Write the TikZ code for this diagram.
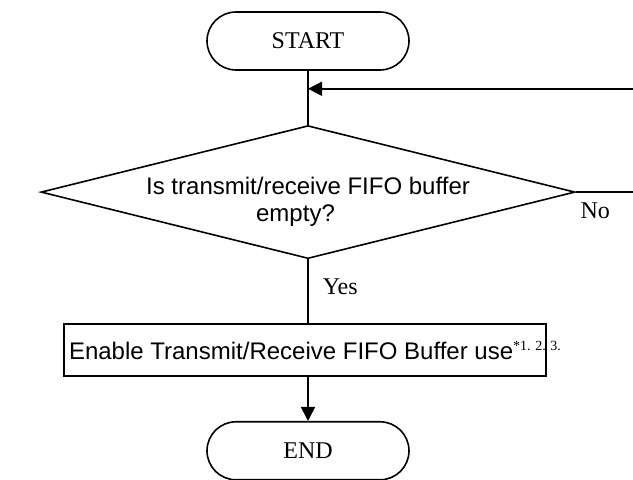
\documentclass[tikz,border=0pt]{standalone}
\usepackage{fontspec}
\setmainfont{Liberation Serif}
\setsansfont{Liberation Sans}
\usetikzlibrary{shapes.geometric, arrows.meta, positioning}

\begin{document}
\begin{tikzpicture}[
    line width=0.8pt,
    terminal/.style={rectangle, draw, rounded corners=14.5pt, minimum width=101pt, minimum height=29pt, font=\fontsize{12}{14}\selectfont},
    decision/.style={diamond, draw, aspect=4, inner sep=0pt, minimum width=267pt, minimum height=66.5pt},
    block/.style={rectangle, draw, minimum width=241pt, minimum height=26pt, inner sep=0pt, font=\sffamily\fontsize{12}{14}\selectfont},
    lbl/.style={inner sep=0pt, font=\fontsize{12}{14}\selectfont},
    arrow/.style={-{Triangle[length=7pt, width=7pt]}}
]
\useasboundingbox (0,0) rectangle (316.5pt,-240pt);

% Nodes
\node (start) [terminal] at (154pt,-20.5pt) {START};
\node (query) [decision, below=27pt of start] {};
\node (qtext) [align=center, font=\sffamily\fontsize{12}{13.5}\selectfont] at ([yshift=-4.75pt]query.center) {Is transmit/receive FIFO buffer\\ empty?\hspace*{12.5pt}};
\node (task) [block, below=32pt of query, xshift=-1.5pt] {\makebox[241pt][l]{\hspace*{2.5pt}Enable Transmit/Receive FIFO Buffer use\textsuperscript{\rmfamily\fontsize{7}{8}\selectfont *1. 2. 3.}}};
\node (stop) [terminal, below=22pt of task, xshift=1.5pt] {END};

% Loop points
\coordinate [below=9pt of start] (join);
\coordinate [right=162.5pt of join] (loopin);
\coordinate [right=29.5pt of query.east] (noout);

% Paths
\draw (start) -- (query);
\draw [arrow] (loopin) -- (join);
\draw (query.east) -- (noout);
\node (no) [lbl, below right=5pt and 2pt of query.east] {No};
\draw (query) -- (task.north -| query) node (yes) [lbl, pos=0.42, right=7pt] {Yes};
\draw [arrow] (task.south -| stop) -- (stop);

\end{tikzpicture}
\end{document}
